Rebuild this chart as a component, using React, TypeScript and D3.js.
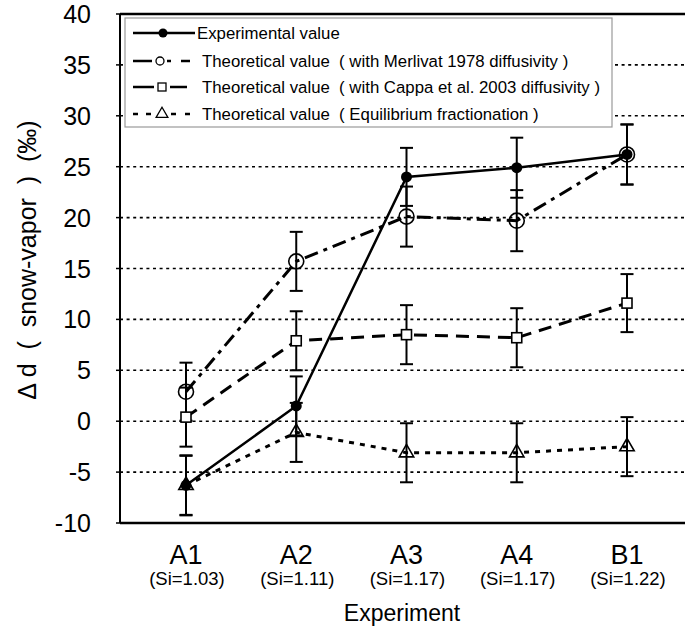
import React from "react";
import * as d3 from "d3";

const categories = ["A1", "A2", "A3", "A4", "B1"];
const siLabels = ["(Si=1.03)", "(Si=1.11)", "(Si=1.17)", "(Si=1.17)", "(Si=1.22)"];
const experimental = [-6.3, 1.5, 24.0, 24.9, 26.2];
const merlivat = [2.9, 15.7, 20.1, 19.7, 26.2];
const cappa = [0.4, 7.9, 8.5, 8.2, 11.6];
const equilibrium = [-6.3, -1.1, -3.1, -3.1, -2.5];
const errExp = [2.95, 2.9, 2.85, 2.95, 2.95];
const errMer = [2.85, 2.9, 2.95, 3.0, 2.95];
const errCap = [2.9, 2.9, 2.9, 2.9, 2.85];
const errEq = [2.9, 2.9, 2.9, 2.9, 2.9];
const yTicks = [-10, -5, 0, 5, 10, 15, 20, 25, 30, 35, 40];
const gridValues = [-5, 0, 5, 10, 15, 20, 25, 30, 35];
const legendLabels = [
  "Experimental value",
  "Theoretical value \u00a0( with Merlivat 1978 diffusivity )",
  "Theoretical value \u00a0( with Cappa et al. 2003 diffusivity )",
  "Theoretical value \u00a0( Equilibrium fractionation )",
];

const FONT = "'Liberation Sans', Arial, sans-serif";

export default function App() {
  const W = 685, H = 631;
  const left = 120, right = 685, top = 14, bottom = 523;
  const x = d3.scalePoint<string>().domain(categories).range([186, 627]);
  const y = d3.scaleLinear().domain([-10, 40]).range([bottom, top]);
  const line = d3
    .line<number>()
    .x((_, i) => x(categories[i]) as number)
    .y((d) => y(d));
  const triPath = d3.symbol(d3.symbolTriangle, 90)() as string;
  const triSmall = d3.symbol(d3.symbolTriangle, 60)() as string;

  const series = [
    { vals: equilibrium, dash: "5 6", w: 3 },
    { vals: cappa, dash: "13 8", w: 3 },
    { vals: merlivat, dash: "14 6 4 6", w: 3 },
    { vals: experimental, dash: "", w: 2.5 },
  ];

  const errorBars = (vals: number[], err: number[], key: string) =>
    vals.map((v, i) => {
      const cx = x(categories[i]) as number;
      const y1 = y(v + err[i]);
      const y2 = y(v - err[i]);
      return (
        <g key={key + i} stroke="#000" strokeWidth={2}>
          <line x1={cx} x2={cx} y1={y1} y2={y2} />
          <line x1={cx - 6.5} x2={cx + 6.5} y1={y1} y2={y1} />
          <line x1={cx - 6.5} x2={cx + 6.5} y1={y2} y2={y2} />
        </g>
      );
    });

  const legendRows = [33, 61, 87, 114];
  const segs = [
    [[133, 195]],
    [[133, 152], [167, 171], [181, 190]],
    [[133, 154], [170, 187]],
    [[133, 138], [146, 151], [171, 176], [185, 190]],
  ];

  return (
    <svg
      width={W}
      height={H}
      style={{ position: "absolute", left: 0, top: 0, background: "#fff" }}
      fontFamily={FONT}
    >
      <rect x={0} y={0} width={W} height={H} fill="#fff" />
      {gridValues.map((v) => (
        <line
          key={"g" + v}
          x1={left}
          x2={right}
          y1={y(v)}
          y2={y(v)}
          stroke="#000"
          strokeWidth={1.6}
          strokeDasharray="3 3.6"
        />
      ))}
      <line x1={left} x2={right} y1={top} y2={top} stroke="#000" strokeWidth={2.5} />
      <line x1={left} x2={right} y1={bottom} y2={bottom} stroke="#000" strokeWidth={2.5} />
      <line x1={left} x2={left} y1={top} y2={bottom} stroke="#000" strokeWidth={2} />
      {yTicks.map((t) => (
        <g key={"t" + t}>
          <line x1={left - 4} x2={left} y1={y(t)} y2={y(t)} stroke="#000" strokeWidth={1.5} />
          <text
            x={91}
            y={y(t)}
            textAnchor="end"
            dominantBaseline="central"
            fontSize={25}
          >
            {t}
          </text>
        </g>
      ))}
      {series.map((s, k) => (
        <path
          key={"l" + k}
          d={line(s.vals) as string}
          fill="none"
          stroke="#000"
          strokeWidth={s.w}
          strokeDasharray={s.dash || undefined}
        />
      ))}
      {errorBars(equilibrium, errEq, "eq")}
      {errorBars(cappa, errCap, "ca")}
      {errorBars(merlivat, errMer, "me")}
      {errorBars(experimental, errExp, "ex")}
      {equilibrium.map((v, i) => (
        <path
          key={"tr" + i}
          d={triPath}
          transform={`translate(${x(categories[i])},${y(v)})`}
          fill="none"
          stroke="#000"
          strokeWidth={1.6}
        />
      ))}
      {cappa.map((v, i) => (
        <rect
          key={"sq" + i}
          x={(x(categories[i]) as number) - 5}
          y={y(v) - 5}
          width={10}
          height={10}
          fill="#fff"
          stroke="#000"
          strokeWidth={1.6}
        />
      ))}
      {merlivat.map((v, i) => (
        <circle
          key={"oc" + i}
          cx={x(categories[i]) as number}
          cy={y(v)}
          r={7.5}
          fill="none"
          stroke="#000"
          strokeWidth={1.6}
        />
      ))}
      {experimental.map((v, i) => (
        <circle key={"fc" + i} cx={x(categories[i]) as number} cy={y(v)} r={5.5} fill="#000" />
      ))}
      {categories.map((c, i) => (
        <g key={"x" + c}>
          <text x={x(c) as number} y={564} textAnchor="middle" fontSize={27}>
            {c}
          </text>
          <text x={(x(c) as number) + 1} y={585} textAnchor="middle" fontSize={18.5}>
            {siLabels[i]}
          </text>
        </g>
      ))}
      <text x={402} y={621} textAnchor="middle" fontSize={23}>
        Experiment
      </text>
      <text
        transform={`translate(36,260) rotate(-90)`}
        textAnchor="middle"
        fontSize={25}
      >
        {"\u0394 d \u00a0( \u00a0snow-vapor \u00a0) \u00a0(\u2030)"}
      </text>
      <rect x={125} y={18} width={487} height={109} fill="#fff" stroke="#999" strokeWidth={1.2} />
      {legendRows.map((ly, r) => (
        <g key={"lg" + r}>
          {segs[r].map((sg, j) => (
            <line
              key={j}
              x1={sg[0]}
              x2={sg[1]}
              y1={ly}
              y2={ly}
              stroke="#000"
              strokeWidth={2.5}
            />
          ))}
          {r === 0 && <circle cx={163} cy={ly} r={4.5} fill="#000" />}
          {r === 1 && (
            <circle cx={160} cy={ly} r={4} fill="#fff" stroke="#000" strokeWidth={1.3} />
          )}
          {r === 2 && (
            <rect x={158} y={ly - 4} width={8} height={8} fill="#fff" stroke="#000" strokeWidth={1.3} />
          )}
          {r === 3 && (
            <path
              d={triSmall}
              transform={`translate(162,${ly})`}
              fill="#fff"
              stroke="#000"
              strokeWidth={1.3}
            />
          )}
          <text
            x={r === 0 ? 197 : 202}
            y={ly}
            dominantBaseline="central"
            fontSize={16.8}
          >
            {legendLabels[r]}
          </text>
        </g>
      ))}
    </svg>
  );
}
